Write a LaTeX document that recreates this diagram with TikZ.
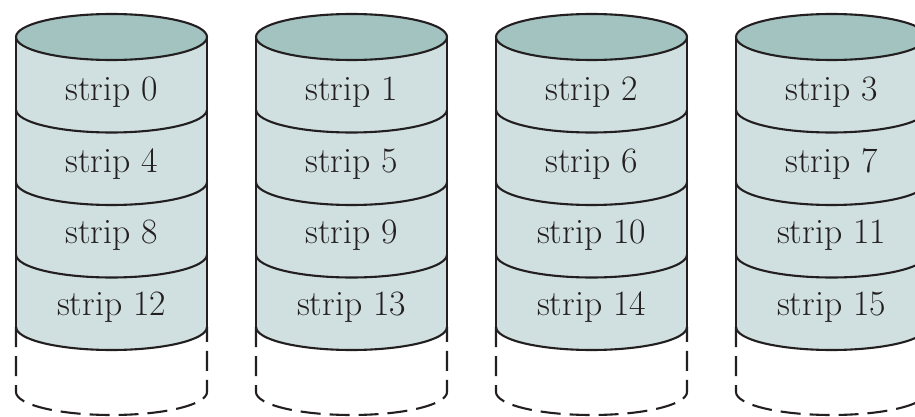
\documentclass[tikz,border=0pt]{standalone}
\definecolor{capc}{HTML}{A3C3C1}
\definecolor{bodyc}{HTML}{D0E0E0}
\definecolor{linec}{HTML}{231F20}
\begin{document}
\begin{tikzpicture}[x=1pt,y=1pt, line width=2.1pt,
  edge/.style={draw=linec},
  dashedge/.style={draw=linec, dash pattern=on 20pt off 9pt},
  lbl/.style={anchor=base, inner sep=0pt, font=\fontsize{35.7}{40}\selectfont, text=linec}]
\useasboundingbox (0,0) rectangle (915,416);
\clip (0,0) rectangle (915,416);
\foreach \i in {0,...,3} {
  \begin{scope}[xshift={111.5pt+240pt*\i}]
    % body
    \fill[bodyc] (-95.5,379) -- (-95.5,89) arc[start angle=180, end angle=360, x radius=95.5, y radius=23] -- (95.5,379) -- cycle;
    % top cap
    \filldraw[fill=capc, edge] (0,379) ellipse[x radius=95.5, y radius=23];
    % sides
    \draw[edge] (-95.5,379) -- (-95.5,89);
    \draw[edge] (95.5,379) -- (95.5,89);
    % dividers
    \foreach \yy in {306.5,234,161.5,89} {
      \draw[edge] (-95.5,\yy) arc[start angle=180, end angle=360, x radius=95.5, y radius=23];
    }
    % dashed empty slot
    \draw[dashedge] (-95.5,89) -- (-95.5,24) arc[start angle=180, end angle=360, x radius=95.5, y radius=23] -- (95.5,89);
  \end{scope}
}
\node[lbl] (s0)  at (111.5,315.5) {strip 0};
\node[lbl] (s4)  at (111.5,244) {strip 4};
\node[lbl] (s8)  at (111.5,172.5) {strip 8};
\node[lbl] (s12) at (111.5,101) {strip 12};
\node[lbl] (s1)  at (351.5,315.5) {strip 1};
\node[lbl] (s5)  at (351.5,244) {strip 5};
\node[lbl] (s9)  at (351.5,172.5) {strip 9};
\node[lbl] (s13) at (351.5,101) {strip 13};
\node[lbl] (s2)  at (591.5,315.5) {strip 2};
\node[lbl] (s6)  at (591.5,244) {strip 6};
\node[lbl] (s10) at (591.5,172.5) {strip 10};
\node[lbl] (s14) at (591.5,101) {strip 14};
\node[lbl] (s3)  at (831.5,315.5) {strip 3};
\node[lbl] (s7)  at (831.5,244) {strip 7};
\node[lbl] (s11) at (831.5,172.5) {strip 11};
\node[lbl] (s15) at (831.5,101) {strip 15};
\end{tikzpicture}
\end{document}
